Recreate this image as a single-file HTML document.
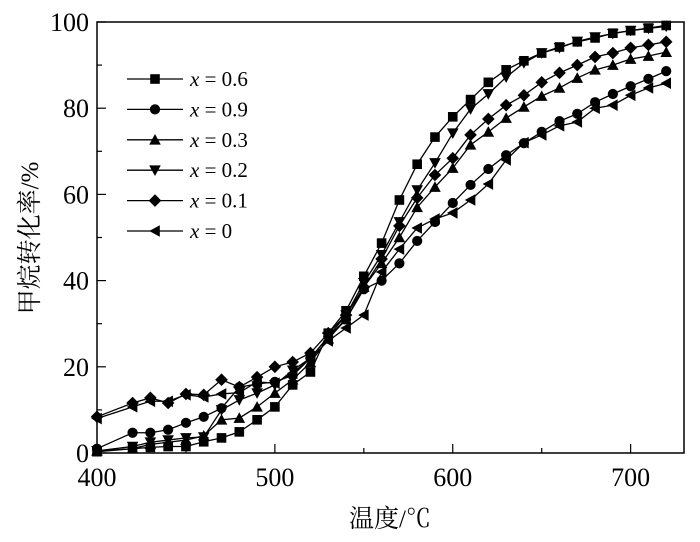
<!DOCTYPE html>
<html><head><meta charset="utf-8"><style>
body{margin:0;background:#fff;}
svg text{font-family:"Liberation Serif","Noto Serif CJK SC",serif;}
</style></head><body>
<svg id="chart" width="700" height="537" viewBox="0 0 700 537" xmlns="http://www.w3.org/2000/svg">
<g id="axes"></g><g id="series"></g><g id="legend"></g>
</svg>
<script>
const temps=[400,420,430,440,450,460,470,480,490,500,510,520,530,540,550,560,570,580,590,600,610,620,630,640,650,660,670,680,690,700,710,720];
const s06=[0.3,1,1.3,1.5,1.5,2.6,3.5,4.9,7.7,10.7,15.8,18.8,27.8,33,41,48.7,58.7,67,73.3,78,82,86,88.9,91,92.8,94.2,95.4,96.3,97.4,98,98.6,99.2];
const s09=[1,4.7,4.7,5.4,7,8.4,10.4,15.3,16,16.5,18,22,27,31,38,40,44,49.2,53.6,58,62.2,65.9,69.1,71.9,74.5,77,78.7,81.4,83.3,85.1,86.8,88.6];
const s03=[0.5,1,2,2.5,3,4,7.7,8.1,10.7,13.9,17,21,26.5,31,38.5,44,50,57,61.7,66.1,71.5,74.5,77.7,80.3,82.8,84.7,87,88.9,90,91.4,92.1,93];
const s02=[0.5,1.5,2.5,3,3.5,3.7,10,12.3,13.9,15.8,19.2,22,27,32,39.5,46,53.6,61,67.3,74.2,79.8,83.3,87.2,90.5,92.8,94,95.5,96.5,97.3,98,98.5,99];
const s01=[8.4,11.6,12.8,11.6,13.7,13.5,17,15.3,17.6,20,21.1,23.2,27.8,32,38.5,45,52.7,59.2,64.5,68.4,73.8,77.5,80.7,83,86,88.2,90,91.9,92.8,94,94.7,95.4];
const s00=[8,10.7,12,12,13.5,13,13.7,14,16.5,16.2,18.5,22,26,29,32,42,47.3,52.2,54.3,55.7,58.7,62.4,68,72,73.8,75.9,76.8,80,80.7,83,84.7,85.8];
const seriesLabels=["x = 0.6","x = 0.9","x = 0.3","x = 0.2","x = 0.1","x = 0"];
const seriesData=[s06,s09,s03,s02,s01,s00];
const markers=["square","circle","up","down","diamond","left"];
const xTicks=[400,500,600,700];
const yTicks=[0,20,40,60,80,100];
const X0=97,X1=684,Y0=453,Y1=22,XMIN=400,XMAX=730;
const xs=v=>X0+(v-XMIN)/(XMAX-XMIN)*(X1-X0);
const ys=v=>Y0-(v/100)*(Y0-Y1);
const NS="http://www.w3.org/2000/svg";
function mk(tag,attrs,parent){const e=document.createElementNS(NS,tag);for(const k in attrs)e.setAttribute(k,attrs[k]);parent.appendChild(e);return e;}
const axes=document.getElementById('axes');
const frame=mk('rect',{x:X0,y:Y1,width:X1-X0,height:Y0-Y1,fill:'none',stroke:'#000','stroke-width':1.5},axes);


for(let v=400;v<=700;v+=50){
  const t=mk('line',{x1:xs(v),x2:xs(v),y1:Y0,y2:Y0-(v%100===0?9:5),stroke:'#000','stroke-width':1.2},axes);
  
  
}
xTicks.forEach(v=>{
  const t=mk('text',{x:xs(v),y:Y0+33,'text-anchor':'middle','font-size':26},axes);t.textContent=v;
  
  
});
for(let v=0;v<=100;v+=10){
  const t=mk('line',{x1:X0,x2:X0+(v%20===0?9:5),y1:ys(v),y2:ys(v),stroke:'#000','stroke-width':1.2},axes);
  
  
}
yTicks.forEach(v=>{
  const t=mk('text',{x:X0-8,y:ys(v)+9,'text-anchor':'end','font-size':26},axes);t.textContent=v;
  
  
});
const xt=mk('text',{x:390,y:527,'text-anchor':'middle','font-size':25},axes);xt.textContent='温度/℃';


const yt=mk('text',{x:0,y:0,'text-anchor':'middle','font-size':25,transform:'translate(38,238) rotate(-90)'},axes);yt.textContent='甲烷转化率/%';


function marker(type,x,y,parent){
  const r=4.8;let e;
  if(type==='square')e=mk('rect',{x:x-r,y:y-r,width:2*r,height:2*r},parent);
  else if(type==='circle')e=mk('circle',{cx:x,cy:y,r:r+0.3},parent);
  else{
    let p;
    if(type==='up')p=[[x,y-r-1],[x+r+1,y+r],[x-r-1,y+r]];
    if(type==='down')p=[[x,y+r+1],[x+r+1,y-r],[x-r-1,y-r]];
    if(type==='left')p=[[x-r-1,y],[x+r,y-r-1],[x+r,y+r+1]];
    if(type==='diamond')p=[[x,y-r-1.5],[x+r+1.5,y],[x,y+r+1.5],[x-r-1.5,y]];
    e=mk('polygon',{points:p.map(q=>q.join(',')).join(' ')},parent);
  }
  e.setAttribute('fill','#000');
  return e;
}
const sg=document.getElementById('series');
seriesData.forEach((d,i)=>{
  const g=mk('g',{},sg);
  
  
  const pl=mk('polyline',{points:d.map((v,j)=>xs(temps[j])+','+ys(v)).join(' '),fill:'none',stroke:'#000','stroke-width':1.3},g);
  
  
  d.forEach((v,j)=>{
    const m=marker(markers[i],xs(temps[j]),ys(v),g);
    
    
  });
});
const lg=document.getElementById('legend');


seriesLabels.forEach((lab,i)=>{
  const y=79+i*30.4;
  const g=mk('g',{},lg);
  
  
  mk('line',{x1:127,x2:183,y1:y,y2:y,stroke:'#000','stroke-width':1.3},g);
  marker(markers[i],155,y,g);
  const t=mk('text',{x:190,y:y+7,'font-size':21},g);
  const ti=mk('tspan',{'font-style':'italic'},t);ti.textContent='x';
  const tr=mk('tspan',{},t);tr.textContent=lab.slice(1);
});
</script>
</body></html>
